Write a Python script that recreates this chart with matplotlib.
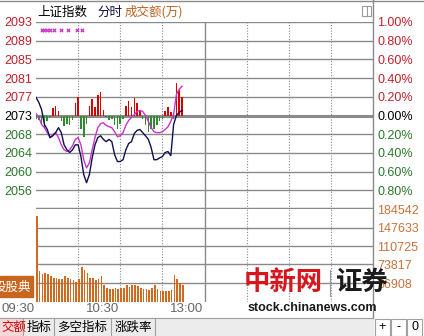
import numpy as np
import matplotlib
matplotlib.use("Agg")
import matplotlib.pyplot as plt
from matplotlib.patches import Rectangle

plt.rcParams['font.family'] = ['Liberation Sans', 'Noto Sans CJK SC', 'DejaVu Sans']

W, H = 424, 336

# datos (cada 2 minutos desde las 09:30)
昨收 = 2073.0
minutos = np.arange(0, 106, 2)
precio = [2077.0, 2075.9, 2074.3, 2071.0, 2069.9, 2068.1, 2068.5, 2069.2, 2070.3, 2069.2,
          2066.5, 2065.4, 2064.8, 2065.4, 2066.5, 2066.5, 2063.9, 2059.9, 2058.1, 2059.9,
          2063.6, 2066.5, 2068.1, 2068.5, 2067.7, 2067.2, 2067.7, 2067.2, 2064.3, 2062.8,
          2062.8, 2063.2, 2065.4, 2066.8, 2067.2, 2069.0, 2069.7, 2069.9, 2069.2, 2068.5,
          2067.7, 2065.9, 2063.2, 2063.2, 2063.6, 2063.9, 2064.8, 2065.0, 2064.1, 2071.0,
          2073.0, 2073.7, 2074.1]
media = [2073.4, 2072.6, 2071.0, 2070.3, 2069.2, 2068.1, 2068.8, 2069.2, 2068.1, 2066.5,
         2065.4, 2065.0, 2065.4, 2066.3, 2067.7, 2068.1, 2066.5, 2063.2, 2061.4, 2062.5,
         2065.4, 2068.1, 2070.3, 2071.2, 2071.4, 2070.8, 2070.5, 2070.3, 2069.4, 2068.3,
         2068.5, 2069.2, 2070.8, 2071.9, 2072.6, 2073.2, 2073.9, 2074.1, 2073.9, 2073.0,
         2071.7, 2070.3, 2069.4, 2069.2, 2069.2, 2069.4, 2069.9, 2070.5, 2071.7, 2073.2,
         2077.7, 2078.8, 2079.5]
fuerza = [-0.7, -0.9, -1.8, -2.7, -1.3, -0.4, 1.6, 2.2, 0.9, -1.3,
          -2.4, -1.8, -2.0, -1.1, 2.7, 4.0, -3.1, -4.7, -1.8, 2.2,
          3.6, 1.8, 4.5, 5.3, 1.3, -0.4, -1.1, -0.7, -2.2, -3.1,
          -1.8, -0.7, 2.2, 3.3, 1.8, 3.8, 2.7, 1.3, -0.7, -2.2,
          -3.6, -2.9, -3.1, -2.0, -1.3, -0.7, 1.1, 1.8, 0.7, -0.7,
          7.3, 5.6, 4.0]
volumen = [169600, 61800, 53900, 55900, 53900, 49900, 45900, 45900, 43900, 43900,
           49900, 45900, 43900, 41900, 39900, 43900, 69800, 63800, 55900, 45900,
           45900, 41900, 43900, 49900, 33900, 27900, 25900, 25900, 27900, 25900,
           27900, 27900, 33900, 29900, 33900, 33900, 31900, 27900, 25900, 25900,
           23900, 27900, 33900, 25900, 21900, 21900, 21900, 21900, 23900, 51900,
           43900, 37900, 33900]
marcas_t = [4, 6, 8, 10, 13, 18, 23, 29, 33]

etiq_precio = ['2056', '2060', '2064', '2068', '2073', '2077', '2081', '2085', '2089', '2093']
etiq_pct = ['0.80%', '0.60%', '0.40%', '0.20%', '0.00%', '0.20%', '0.40%', '0.60%', '0.80%', '1.00%']
etiq_vol = ['36908', '73817', '110725', '147633', '184542']
vol_ticks = [36908, 73817, 110725, 147633, 184542]
etiq_hora = ['09:30', '10:30', '13:00']
hora_t = [0, 60, 120]

ROJO = '#c0202a'
VERDE = '#2a7a2a'
NARANJA = '#c8733a'
GRIS = '#8a8a8a'


def fx(x):
    return x / W


def fy(y):
    return 1 - y / H


fig = plt.figure(figsize=(W / 100, H / 100), dpi=100)
fig.patch.set_facecolor('white')

x0, x1 = 36, 373
ax = fig.add_axes([fx(x0), fy(209), (x1 - x0) / W, (209 - 22) / H])
axv = fig.add_axes([fx(x0), fy(301.5), (x1 - x0) / W, (301.5 - 209) / H])

niveles = [昨收 * (1 + 0.002 * k) for k in range(-4, 6)]
for a in (ax, axv):
    a.set_xlim(0, 240)
    for s in a.spines.values():
        s.set_visible(False)
    a.set_xticks([])
    a.tick_params(length=0)
    for t in (30, 60, 90, 150, 180, 210):
        a.axvline(t, color=GRIS, lw=0.8, ls=(0, (1, 1.5)), zorder=0)
    a.axvline(120, color=GRIS, lw=1, zorder=0)

# panel de precio
ax.set_ylim(昨收 * 0.99, 昨收 * 1.01)
for k, n in enumerate(niveles):
    ax.axhline(n, color=GRIS, lw=2.2 if k == 4 else 1, zorder=0)
ax.axhline(昨收 * 0.99, color=GRIS, lw=2.5, zorder=0)

colores_f = ['#d40000' if v > 0 else '#2e8b2e' for v in fuerza]
ax.bar(minutos, fuerza, bottom=昨收, width=1.1, color=colores_f, zorder=2)
ax.plot(minutos, media, color='#cc33cc', lw=1, zorder=3)
ax.plot(minutos, precio, color='#10104a', lw=1, zorder=4)
ax.scatter(marcas_t, [昨收 * 1.0091] * len(marcas_t), marker='x', s=6, lw=0.9,
           color='#cc33cc', zorder=5)

ax.set_yticks(niveles)
ax.set_yticklabels(etiq_precio, fontsize=9)
for k, lab in enumerate(ax.get_yticklabels()):
    lab.set_color(ROJO if k > 4 else ('black' if k == 4 else VERDE))
ax.tick_params(axis='y', pad=3)

axr = ax.twinx()
axr.set_ylim(ax.get_ylim())
for s in axr.spines.values():
    s.set_visible(False)
axr.set_yticks(niveles)
axr.set_yticklabels(etiq_pct, fontsize=9)
axr.tick_params(length=0, pad=3)
for k, lab in enumerate(axr.get_yticklabels()):
    lab.set_color(ROJO if k > 4 else ('black' if k == 4 else VERDE))

# panel de volumen
axv.set_ylim(0, 184542)
for v in vol_ticks[:-1]:
    axv.axhline(v, color=GRIS, lw=1, zorder=0)
axv.axhline(0, color='#cccccc', lw=0.6, zorder=0)
axv.bar(minutos, volumen, width=1.2, align='edge', color='#d2691e', zorder=2)
axv.set_yticks([])
axvr = axv.twinx()
axvr.set_ylim(0, 184542)
for s in axvr.spines.values():
    s.set_visible(False)
axvr.set_yticks(vol_ticks)
axvr.set_yticklabels(etiq_vol, fontsize=9, color=NARANJA)
axvr.tick_params(length=0, pad=3)

# bordes
fig.add_artist(plt.Line2D([fx(373), fx(373)], [fy(0), fy(318)], color=GRIS, lw=1))
fig.add_artist(plt.Line2D([0, 1], [fy(0.5), fy(0.5)], color=GRIS, lw=1))
fig.add_artist(Rectangle((fx(362), fy(16)), 9 / W, 10 / H, fill=False, ec='#999999', lw=0.8))
fig.add_artist(plt.Line2D([fx(367), fx(367)], [fy(16), fy(6)], color='#999999', lw=0.8))

# titulo
fig.text(fx(37), fy(12), '上证指数', fontsize=9, family=['Noto Sans CJK SC'], va='center')
fig.text(fx(97), fy(12), '分时', fontsize=9, family=['Noto Sans CJK SC'], va='center', color='#101040')
fig.text(fx(125), fy(12), '成交额(万)', fontsize=9, family=['Noto Sans CJK SC'], va='center', color='#c06020')

# horas
for t, lab in zip(hora_t, etiq_hora):
    fig.text(fx(x0 + 1.4 * t - 1), fy(309), lab, fontsize=9.5, ha='right', va='center', color='#666666')

# recuadro naranja
fig.add_artist(Rectangle((0, fy(297)), 33 / W, 21 / H, color='#c8651e'))
fig.text(fx(-6), fy(287), '投股典', fontsize=9, color='white', va='center',
         family=['Noto Sans CJK SC'])

# barra de pestañas
fig.add_artist(Rectangle((0, 0), 373 / W, 18 / H, color='#ececec'))
fig.add_artist(Rectangle((0, 0), 22 / W, 18 / H, color='#f6d8d8'))
for xs in (23, 54, 111, 155):
    fig.add_artist(plt.Line2D([fx(xs), fx(xs)], [0, fy(318)], color='#a0a0a0', lw=0.8))
fig.add_artist(plt.Line2D([0, fx(373)], [fy(318), fy(318)], color='#a0a0a0', lw=0.8))
pestanas = [('交额', 1, '#d00000'), ('指标', 27, 'black'), ('多空指标', 57, 'black'), ('涨跌率', 115, 'black')]
for txt, xs, c in pestanas:
    fig.text(fx(xs), fy(327), txt, fontsize=9, color=c, va='center', family=['Noto Sans CJK SC'])
for xs, txt in ((375, '+'), (391, '-'), (407, '0')):
    fig.add_artist(Rectangle((fx(xs), 0), 15 / W, 17 / H, fill=False, ec='#a0a0a0', lw=0.8))
    fig.text(fx(xs + 7.5), fy(327), txt, fontsize=9, ha='center', va='center')

# marca de agua
fig.text(fx(244), fy(282), '中新网', fontsize=19, color='#d8141c', weight='bold', va='center',
         family=['Noto Sans CJK SC'], zorder=10)
fig.add_artist(plt.Line2D([fx(330), fx(330)], [fy(270), fy(296)], color='#999999', lw=0.8))
fig.text(fx(336), fy(282), '证券', fontsize=19, color='#1a1a1a', weight='bold', va='center',
         family=['Noto Sans CJK SC'], zorder=10)
fig.text(fx(248), fy(308), 'stock.chinanews.com', fontsize=9, color='#1a1a1a', weight='bold',
         va='center', zorder=10)

fig.savefig('out.png', dpi=100)
